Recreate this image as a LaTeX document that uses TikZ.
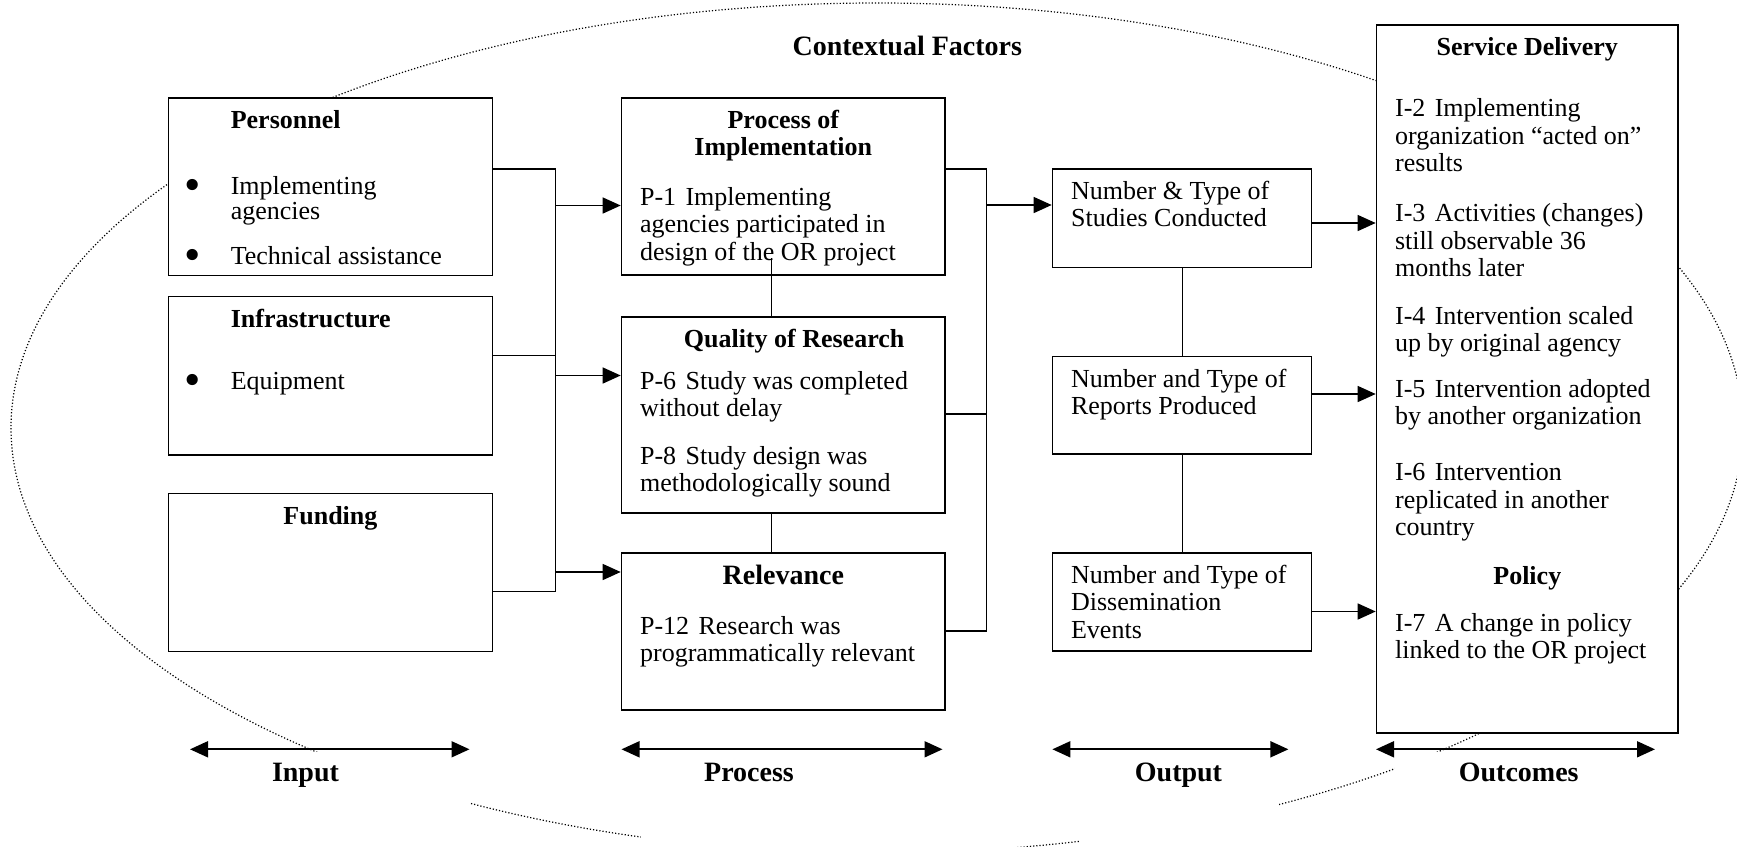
\documentclass[tikz,border=0pt]{standalone}
\usepackage{fontspec}
\setmainfont{Liberation Serif}
\usepackage{graphicx}
\usepackage{tikz}
\usetikzlibrary{arrows.meta}
\newcommand{\bodyfont}{\fontsize{13pt}{13.6pt}\selectfont}
\newcommand{\hdfont}{\fontsize{14pt}{15pt}\selectfont\bfseries}
\newcommand{\idsp}{\hspace{0.36em}}
\newcommand{\bul}{\makebox[21.9pt][l]{\hspace*{-1.2pt}\raisebox{-3.2pt}{\scalebox{1.8}{\textbullet}}}}
\newcommand{\boxtext}[3]{\parbox[t][#2][t]{#1}{\bodyfont\raggedright\strut#3}}

\begin{document}
\begin{tikzpicture}[
  x=0.5pt, y=-0.5pt,
  blk/.style={draw, line width=0.8pt, fill=white, anchor=north west,
    inner xsep=9.3pt, inner ysep=5.8pt},
  lbl/.style={fill=white, font=\hdfont, inner sep=0pt, anchor=base,
    text height=15pt, text depth=35pt},
  wire/.style={line width=0.7pt},
  arr/.style={line width=0.7pt, -{Triangle[length=9pt, width=8pt]}},
  spanarr/.style={line width=0.9pt,
    {Triangle[length=9pt, width=8pt]}-{Triangle[length=9pt, width=8pt]}},
  link/.style={line width=0.5pt},
  ctxline/.style={line width=0.6pt, dash pattern=on 0.6pt off 1pt}
]
\useasboundingbox (0,0) rectangle (1737,847);
\clip (0,0) rectangle (1737,847);

% contextual factors
\draw[ctxline] (877,428) ellipse [x radius=866, y radius=425];
\node[font=\hdfont, anchor=base] (ctx) at (907.3,55) {Contextual Factors};

% input
\node[blk] (pers) at (167.6,97.3) {\boxtext{143.45pt}{77.1pt}{%
  \hspace*{21.9pt}\textbf{Personnel}\\[19.1pt]
  \bul Implementing\\[-1.1pt]
  \hspace*{21.9pt}agencies\\[8.9pt]
  \bul Technical assistance}};
\node[blk] (infra) at (167.6,295.7) {\boxtext{143.45pt}{67.55pt}{%
  \hspace*{21.9pt}\textbf{Infrastructure}\\[17.4pt]
  \bul Equipment}};
\node[blk] (fund) at (167.6,492.7) {\boxtext{143.45pt}{67.4pt}{%
  {\centering\textbf{Funding}\par}}};

% process
\node[blk] (pimpl) at (620.7,97.3) {\boxtext{143.2pt}{76.75pt}{%
  {\centering\bfseries Process of\\Implementation\par}\vspace{11.3pt}
  P-1\idsp Implementing\\
  agencies participated in\\
  design of the OR project}};
\node[blk] (qual) at (620.7,316) {\boxtext{143.2pt}{86.55pt}{%
  {\centering\bfseries\hspace*{10.8pt}Quality of Research\par}\vspace{7.2pt}
  P-6\idsp Study was completed\\
  without delay\\[10.3pt]
  P-8\idsp Study design was\\
  methodologically sound}};
\node[blk] (relv) at (620.7,552.3) {\boxtext{143.2pt}{66.9pt}{%
  {\centering\hdfont Relevance\par}\vspace{11.5pt}
  P-12\idsp Research was\\
  programmatically relevant}};

% output
\node[blk] (out1) at (1051.7,168.3) {\boxtext{110.9pt}{37.6pt}{%
  Number \& Type of\\Studies Conducted}};
\node[blk] (out2) at (1051.7,355.7) {\boxtext{110.9pt}{37.2pt}{%
  Number and Type of\\Reports Produced}};
\node[blk] (out3) at (1051.7,552.3) {\boxtext{110.9pt}{37.25pt}{%
  Number and Type of\\Dissemination\\Events}};

% outcomes
\node[blk] (sd) at (1375.7,24) {\boxtext{132.2pt}{342.55pt}{%
  {\centering\textbf{Service Delivery}\par}\vspace{17.1pt}
  I-2\idsp Implementing\\
  organization ``acted on''\\
  results\\[11.7pt]
  I-3\idsp Activities (changes)\\
  still observable 36\\
  months later\\[10.35pt]
  I-4\idsp Intervention scaled\\
  up by original agency\\[9.5pt]
  I-5\idsp Intervention adopted\\
  by another organization\\[14.45pt]
  I-6\idsp Intervention\\
  replicated in another\\
  country\\[10.85pt]
  {\centering\textbf{Policy}\par}\vspace{10.1pt}
  I-7\idsp A change in policy\\
  linked to the OR project}};

% stage labels
\node[lbl, minimum width=164.5pt] (lblin) at (305.5,781.7) {Input};
\node[lbl, minimum width=108pt] (lblproc) at (749,781.7) {Process};
\node[lbl, minimum width=100pt] (lblout) at (1178.5,781.7) {Output};
\node[lbl, minimum width=123.7pt] (lblouc) at (1518.7,781.7) {Outcomes};

% bus points
\coordinate (lb1) at (555.6,169);
\coordinate (lb2) at (555.6,355.2);
\coordinate (lb3) at (555.6,591.7);
\coordinate (la1) at (555.6,205.5);
\coordinate (la2) at (555.6,375.5);
\coordinate (la3) at (555.6,572);
\coordinate (rb1) at (986.7,169);
\coordinate (rb2) at (986.7,414);
\coordinate (rb3) at (986.7,631);
\coordinate (ra1) at (986.7,205);
\coordinate (oa1) at (1343,223);
\coordinate (oa2) at (1343,394);
\coordinate (oa3) at (1343,611.5);
\coordinate (pl1) at (771.7,258);

\draw[wire] (pers.east |- lb1) -- (lb1) -- (lb3) -- (fund.east |- lb3);
\draw[wire] (infra.east |- lb2) -- (lb2);
\draw[arr] (la1) -- (pimpl.west |- la1);
\draw[arr] (la2) -- (qual.west |- la2);
\draw[arr] (la3) -- (relv.west |- la3);

\draw[wire] (pimpl.east |- rb1) -- (rb1) -- (rb3) -- (relv.east |- rb3);
\draw[wire] (qual.east |- rb2) -- (rb2);
\draw[arr] (ra1) -- (out1.west |- ra1);

\draw[arr] (out1.east |- oa1) -- (sd.west |- oa1);
\draw[arr] (out2.east |- oa2) -- (sd.west |- oa2);
\draw[arr] (out3.east |- oa3) -- (sd.west |- oa3);

\draw[link] (pl1) -- (qual.north -| pl1);
\draw[link] (qual.south -| pl1) -- (relv.north -| pl1);
\draw[link] (out1.south) -- (out2.north);
\draw[link] (out2.south) -- (out3.north);

% stage spans
\coordinate (ia) at (190,749.3);
\coordinate (ib) at (469.5,749.3);
\coordinate (pa) at (621.5,749.3);
\coordinate (pb) at (942.5,749.3);
\coordinate (oa) at (1052.4,749.3);
\coordinate (ob) at (1288.4,749.3);
\coordinate (ua) at (1376,749.3);
\coordinate (ub) at (1655,749.3);
\draw[spanarr] (ia) -- (ib);
\draw[spanarr] (pa) -- (pb);
\draw[spanarr] (oa) -- (ob);
\draw[spanarr] (ua) -- (ub);
\end{tikzpicture}
\end{document}
